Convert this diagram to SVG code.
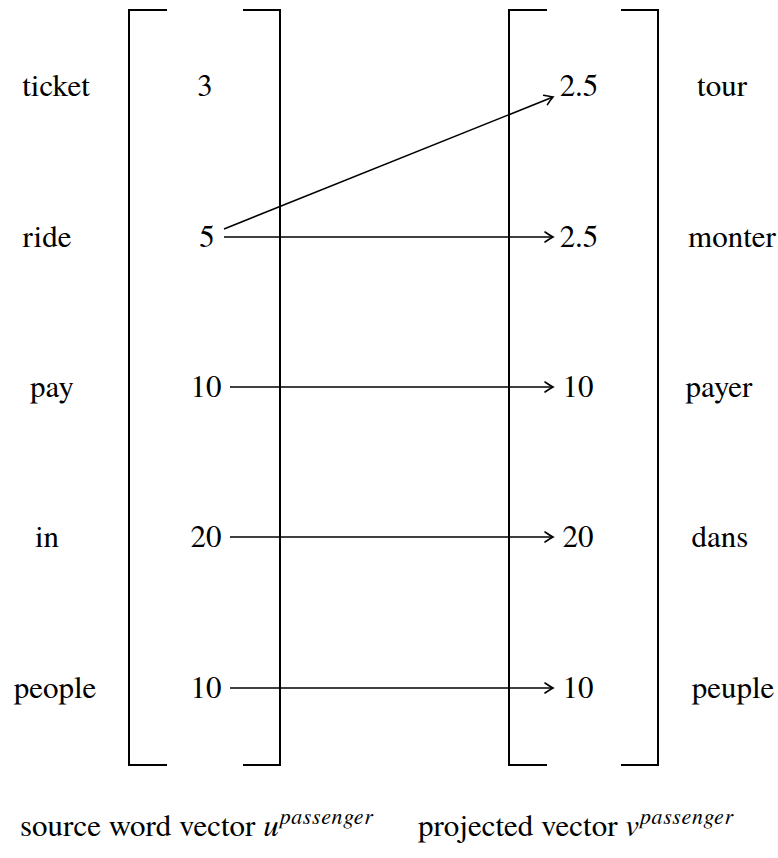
<svg xmlns="http://www.w3.org/2000/svg" width="778" height="858" viewBox="0 0 778 858">
<style>
text{font-family:"Nimbus Roman","TeX Gyre Termes","FreeSerif","DejaVu Serif Condensed",serif;font-size:31px;fill:#000}
.m{text-anchor:middle}
.br{fill:none;stroke:#000;stroke-width:2}
.ar{fill:none;stroke:#000;stroke-width:1.6}
.it{font-style:italic}
.sup{font-style:italic;font-size:22px;letter-spacing:0.6px}
</style>
<defs>
<marker id="ah" markerUnits="userSpaceOnUse" markerWidth="14" markerHeight="14" refX="12" refY="7" orient="auto" viewBox="0 0 14 14">
<path d="M4 2 Q9 5.5 12 7 Q9 8.5 4 12" fill="none" stroke="#000" stroke-width="1.6" stroke-linecap="round"/>
</marker>
</defs>
<g id="source-vector">
<path class="br" d="M167 10 H129 V765 H167"/>
<path class="br" d="M243 10 H280 V765 H243"/>
</g>
<g id="projected-vector">
<path class="br" d="M547 10 H509 V765 H547"/>
<path class="br" d="M621 10 H658 V765 H621"/>
</g>
<g id="source-words">
<text class="m" x="56" y="96">ticket</text>
<text class="m" x="47" y="247">ride</text>
<text class="m" x="52" y="397">pay</text>
<text class="m" x="47" y="547">in</text>
<text class="m" x="55" y="698">people</text>
</g>
<g id="source-values">
<text class="m" x="205" y="96">3</text>
<text class="m" x="207" y="247">5</text>
<text class="m" x="206" y="397">10</text>
<text class="m" x="206" y="547">20</text>
<text class="m" x="206" y="698">10</text>
</g>
<g id="projected-values">
<text class="m" x="579" y="96">2.5</text>
<text class="m" x="579" y="247">2.5</text>
<text class="m" x="578" y="397">10</text>
<text class="m" x="578" y="547">20</text>
<text class="m" x="578" y="698">10</text>
</g>
<g id="target-words">
<text class="m" x="722" y="96">tour</text>
<text class="m" x="732" y="247">monter</text>
<text class="m" x="719" y="397">payer</text>
<text class="m" x="720" y="547">dans</text>
<text class="m" x="733" y="698">peuple</text>
</g>
<g id="connectors">
<line class="ar" x1="224" y1="229" x2="553" y2="97" marker-end="url(#ah)"/>
<line class="ar" x1="224" y1="237" x2="553" y2="237" marker-end="url(#ah)"/>
<line class="ar" x1="230" y1="387" x2="553" y2="387" marker-end="url(#ah)"/>
<line class="ar" x1="230" y1="537" x2="553" y2="537" marker-end="url(#ah)"/>
<line class="ar" x1="230" y1="688" x2="553" y2="688" marker-end="url(#ah)"/>
</g>
<g id="captions">
<text x="20" y="836">source word vector <tspan class="it">u</tspan><tspan class="sup" dy="-12" dx="1">passenger</tspan></text>
<text x="418" y="836">projected vector <tspan class="it">v</tspan><tspan class="sup" dy="-12" dx="1">passenger</tspan></text>
</g>
</svg>
